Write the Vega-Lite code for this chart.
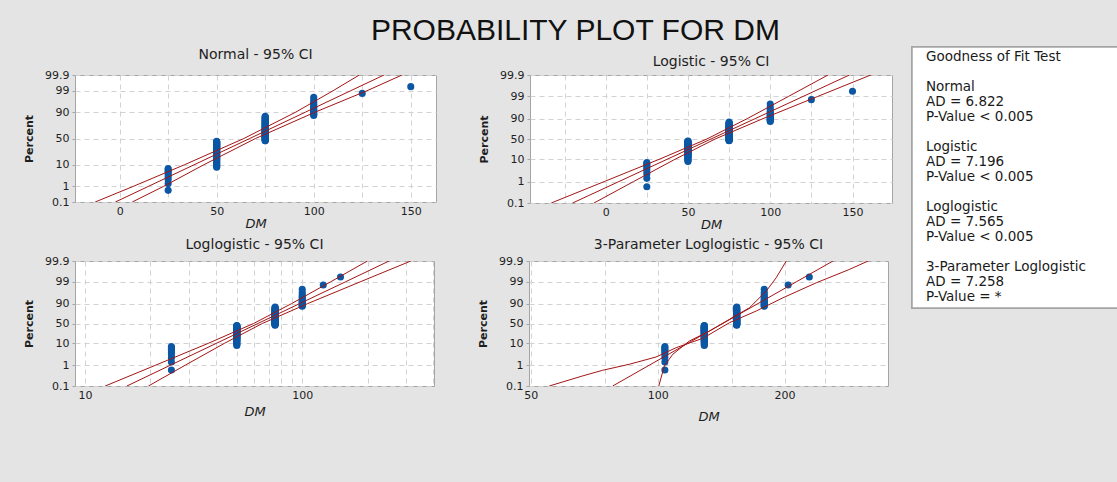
{
  "$schema": "https://vega.github.io/schema/vega-lite/v6.json",
  "background": "#e4e4e4",
  "padding": {"left": 23, "top": 16, "right": 0, "bottom": 70},
  "title": {"text": "PROBABILITY PLOT FOR DM", "font": "Liberation Sans", "fontSize": 30, "fontWeight": "normal", "color": "#111111", "anchor": "middle", "offset": 0},
  "datasets": {
    "pts": [
      {"DM":25,"pct":0.58},{"DM":25,"pct":1.41},{"DM":25,"pct":2.24},{"DM":25,"pct":3.07},{"DM":25,"pct":3.90},{"DM":25,"pct":4.73},{"DM":25,"pct":5.56},{"DM":25,"pct":6.40},{"DM":25,"pct":7.23},
      {"DM":50,"pct":8.06},{"DM":50,"pct":8.89},{"DM":50,"pct":9.72},{"DM":50,"pct":10.55},{"DM":50,"pct":11.38},{"DM":50,"pct":12.21},{"DM":50,"pct":13.04},{"DM":50,"pct":13.87},{"DM":50,"pct":14.70},{"DM":50,"pct":15.53},
      {"DM":50,"pct":16.36},{"DM":50,"pct":17.19},{"DM":50,"pct":18.02},{"DM":50,"pct":18.85},{"DM":50,"pct":19.68},{"DM":50,"pct":20.51},{"DM":50,"pct":21.35},{"DM":50,"pct":22.18},{"DM":50,"pct":23.01},{"DM":50,"pct":23.84},
      {"DM":50,"pct":24.67},{"DM":50,"pct":25.50},{"DM":50,"pct":26.33},{"DM":50,"pct":27.16},{"DM":50,"pct":27.99},{"DM":50,"pct":28.82},{"DM":50,"pct":29.65},{"DM":50,"pct":30.48},{"DM":50,"pct":31.31},{"DM":50,"pct":32.14},
      {"DM":50,"pct":32.97},{"DM":50,"pct":33.80},{"DM":50,"pct":34.63},{"DM":50,"pct":35.47},{"DM":50,"pct":36.30},{"DM":50,"pct":37.13},{"DM":50,"pct":37.96},{"DM":50,"pct":38.79},{"DM":50,"pct":39.62},{"DM":50,"pct":40.45},
      {"DM":50,"pct":41.28},{"DM":50,"pct":42.11},{"DM":50,"pct":42.94},{"DM":50,"pct":43.77},{"DM":50,"pct":44.60},
      {"DM":75,"pct":45.43},{"DM":75,"pct":46.26},{"DM":75,"pct":47.09},{"DM":75,"pct":47.92},{"DM":75,"pct":48.75},{"DM":75,"pct":49.58},{"DM":75,"pct":50.42},{"DM":75,"pct":51.25},{"DM":75,"pct":52.08},{"DM":75,"pct":52.91},
      {"DM":75,"pct":53.74},{"DM":75,"pct":54.57},{"DM":75,"pct":55.40},{"DM":75,"pct":56.23},{"DM":75,"pct":57.06},{"DM":75,"pct":57.89},{"DM":75,"pct":58.72},{"DM":75,"pct":59.55},{"DM":75,"pct":60.38},{"DM":75,"pct":61.21},
      {"DM":75,"pct":62.04},{"DM":75,"pct":62.87},{"DM":75,"pct":63.70},{"DM":75,"pct":64.53},{"DM":75,"pct":65.37},{"DM":75,"pct":66.20},{"DM":75,"pct":67.03},{"DM":75,"pct":67.86},{"DM":75,"pct":68.69},{"DM":75,"pct":69.52},
      {"DM":75,"pct":70.35},{"DM":75,"pct":71.18},{"DM":75,"pct":72.01},{"DM":75,"pct":72.84},{"DM":75,"pct":73.67},{"DM":75,"pct":74.50},{"DM":75,"pct":75.33},{"DM":75,"pct":76.16},{"DM":75,"pct":76.99},{"DM":75,"pct":77.82},
      {"DM":75,"pct":78.65},{"DM":75,"pct":79.49},{"DM":75,"pct":80.32},{"DM":75,"pct":81.15},{"DM":75,"pct":81.98},{"DM":75,"pct":82.81},{"DM":75,"pct":83.64},{"DM":75,"pct":84.47},{"DM":75,"pct":85.30},{"DM":75,"pct":86.13},
      {"DM":100,"pct":86.96},{"DM":100,"pct":87.79},{"DM":100,"pct":88.62},{"DM":100,"pct":89.45},{"DM":100,"pct":90.28},{"DM":100,"pct":91.11},{"DM":100,"pct":91.94},{"DM":100,"pct":92.77},{"DM":100,"pct":93.60},{"DM":100,"pct":94.44},
      {"DM":100,"pct":95.27},{"DM":100,"pct":96.10},{"DM":100,"pct":96.93},{"DM":100,"pct":97.76},
      {"DM":125,"pct":98.59},
      {"DM":150,"pct":99.42}
    ],
    "x3": [
      {"DM":25,"x3":104},{"DM":50,"x3":129},{"DM":75,"x3":154},{"DM":100,"x3":179},{"DM":125,"x3":204},{"DM":150,"x3":229}
    ],
    "lines": [
      {"p":"N","s":"fit","x":-2.2,"pct":0.1},{"p":"N","s":"fit","x":14.9,"pct":1},{"p":"N","s":"fit","x":38.3,"pct":10},{"p":"N","s":"fit","x":67,"pct":50},{"p":"N","s":"fit","x":95.7,"pct":90},{"p":"N","s":"fit","x":119.1,"pct":99},{"p":"N","s":"fit","x":136.2,"pct":99.9},
      {"p":"N","s":"lo","x":-12.6,"pct":0.1},{"p":"N","s":"lo","x":7.1,"pct":1},{"p":"N","s":"lo","x":33.3,"pct":10},{"p":"N","s":"lo","x":64,"pct":50},{"p":"N","s":"lo","x":90.7,"pct":90},{"p":"N","s":"lo","x":110,"pct":99},{"p":"N","s":"lo","x":123.5,"pct":99.9},
      {"p":"N","s":"hi","x":6.5,"pct":0.1},{"p":"N","s":"hi","x":22.7,"pct":1},{"p":"N","s":"hi","x":43.3,"pct":10},{"p":"N","s":"hi","x":70,"pct":50},{"p":"N","s":"hi","x":100.7,"pct":90},{"p":"N","s":"hi","x":127.5,"pct":99},{"p":"N","s":"hi","x":145.5,"pct":99.9},
      {"p":"L","s":"fit","x":-20.1,"pct":0.1},{"p":"L","s":"fit","x":8.0,"pct":1},{"p":"L","s":"fit","x":37.2,"pct":10},{"p":"L","s":"fit","x":64,"pct":50},{"p":"L","s":"fit","x":90.8,"pct":90},{"p":"L","s":"fit","x":120,"pct":99},{"p":"L","s":"fit","x":148.1,"pct":99.9},
      {"p":"L","s":"lo","x":-33.1,"pct":0.1},{"p":"L","s":"lo","x":-0.9,"pct":1},{"p":"L","s":"lo","x":32.4,"pct":10},{"p":"L","s":"lo","x":61.5,"pct":50},{"p":"L","s":"lo","x":86,"pct":90},{"p":"L","s":"lo","x":111.1,"pct":99},{"p":"L","s":"lo","x":135.1,"pct":99.9},
      {"p":"L","s":"hi","x":-7.1,"pct":0.1},{"p":"L","s":"hi","x":16.9,"pct":1},{"p":"L","s":"hi","x":42,"pct":10},{"p":"L","s":"hi","x":66.5,"pct":50},{"p":"L","s":"hi","x":95.6,"pct":90},{"p":"L","s":"hi","x":128.9,"pct":99},{"p":"L","s":"hi","x":161.1,"pct":99.9},
      {"p":"LL","s":"fit","x":15.6,"pct":0.1},{"p":"LL","s":"fit","x":24.8,"pct":1},{"p":"LL","s":"fit","x":40.2,"pct":10},{"p":"LL","s":"fit","x":62.5,"pct":50},{"p":"LL","s":"fit","x":97.3,"pct":90},{"p":"LL","s":"fit","x":157.8,"pct":99},{"p":"LL","s":"fit","x":251,"pct":99.9},
      {"p":"LL","s":"lo","x":12.4,"pct":0.1},{"p":"LL","s":"lo","x":21.2,"pct":1},{"p":"LL","s":"lo","x":36.9,"pct":10},{"p":"LL","s":"lo","x":59.7,"pct":50},{"p":"LL","s":"lo","x":89.3,"pct":90},{"p":"LL","s":"lo","x":134.9,"pct":99},{"p":"LL","s":"lo","x":199.5,"pct":99.9},
      {"p":"LL","s":"hi","x":19.6,"pct":0.1},{"p":"LL","s":"hi","x":29,"pct":1},{"p":"LL","s":"hi","x":43.8,"pct":10},{"p":"LL","s":"hi","x":65.5,"pct":50},{"p":"LL","s":"hi","x":105.9,"pct":90},{"p":"LL","s":"hi","x":184.5,"pct":99},{"p":"LL","s":"hi","x":316,"pct":99.9},
      {"p":"P3","s":"fit","x":78.2,"pct":0.1},{"p":"P3","s":"fit","x":95.6,"pct":1},{"p":"P3","s":"fit","x":117.8,"pct":10},{"p":"P3","s":"fit","x":142.7,"pct":50},{"p":"P3","s":"fit","x":172.9,"pct":90},{"p":"P3","s":"fit","x":213.1,"pct":99},{"p":"P3","s":"fit","x":260.6,"pct":99.9},
      {"p":"P3","s":"st","x":100.6,"pct":0.1},{"p":"P3","s":"st","x":103.7,"pct":0.91},{"p":"P3","s":"st","x":108.6,"pct":3.23},{"p":"P3","s":"st","x":118.9,"pct":12.6},{"p":"P3","s":"st","x":132.7,"pct":30.4},{"p":"P3","s":"st","x":148,"pct":61.4},{"p":"P3","s":"st","x":165.2,"pct":85.2},{"p":"P3","s":"st","x":181,"pct":97.3},{"p":"P3","s":"st","x":191.1,"pct":99.37},{"p":"P3","s":"st","x":201.9,"pct":99.9},
      {"p":"P3","s":"sh","x":55.3,"pct":0.1},{"p":"P3","s":"sh","x":66.4,"pct":0.305},{"p":"P3","s":"sh","x":74,"pct":0.565},{"p":"P3","s":"sh","x":85.6,"pct":1.09},{"p":"P3","s":"sh","x":99.1,"pct":2.41},{"p":"P3","s":"sh","x":110.6,"pct":6.46},{"p":"P3","s":"sh","x":128,"pct":16.3},{"p":"P3","s":"sh","x":148,"pct":52.2},{"p":"P3","s":"sh","x":171.3,"pct":79.9},{"p":"P3","s":"sh","x":198.3,"pct":94.5},{"p":"P3","s":"sh","x":237.9,"pct":98.9},{"p":"P3","s":"sh","x":285.5,"pct":99.75},{"p":"P3","s":"sh","x":315.8,"pct":99.9}
    ],
    "gof": [
      {"row": 0, "t": "Goodness of Fit Test"},
      {"row": 2, "t": "Normal"},
      {"row": 3, "t": "AD = 6.822"},
      {"row": 4, "t": "P-Value < 0.005"},
      {"row": 6, "t": "Logistic"},
      {"row": 7, "t": "AD = 7.196"},
      {"row": 8, "t": "P-Value < 0.005"},
      {"row": 10, "t": "Loglogistic"},
      {"row": 11, "t": "AD = 7.565"},
      {"row": 12, "t": "P-Value < 0.005"},
      {"row": 14, "t": "3-Parameter Loglogistic"},
      {"row": 15, "t": "AD = 7.258"},
      {"row": 16, "t": "P-Value = *"}
    ]
  },
  "spacing": 18,
  "hconcat": [
    {
      "spacing": 5,
      "vconcat": [
        {
          "spacing": 41,
          "hconcat": [
            {
              "width": 361, "height": 127,
              "title": {"text": "Normal - 95% CI", "offset": 7},
              "layer": [
                {
                  "data": {"name": "pts"},
                  "transform": [{"calculate": "quantileNormal(datum.pct/100)", "as": "q"}],
                  "mark": {"type": "point", "filled": true, "size": 50, "opacity": 1, "color": "#0b57a4"},
                  "encoding": {
                    "x": {"field": "DM", "type": "quantitative", "scale": {"domain": [-23, 163], "nice": false, "zero": false},
                      "axis": {"values": [0, 25, 50, 75, 100, 125, 150], "tickCount": 40, "labelExpr": "datum.value % 50 === 0 ? datum.label : ''", "title": "DM", "labelOverlap": false}},
                    "y": {"field": "q", "type": "quantitative", "scale": {"domain": [-3.0902, 3.0902], "nice": false, "zero": false},
                      "axis": {"values": [-3.0902, -2.3263, -1.2816, 0, 1.2816, 2.3263, 3.0902], "tickCount": 40, "labelExpr": "'' + round(cumulativeNormal(datum.value)*1000)/10", "title": "Percent", "labelOverlap": false}}
                  }
                },
                {
                  "data": {"name": "lines"},
                  "transform": [{"filter": "datum.p === 'N'"}, {"calculate": "quantileNormal(datum.pct/100)", "as": "q"}],
                  "mark": {"type": "line", "color": "#a31515", "strokeWidth": 1, "clip": true},
                  "encoding": {
                    "x": {"field": "x", "type": "quantitative"},
                    "y": {"field": "q", "type": "quantitative"},
                    "detail": {"field": "s"},
                    "order": {"field": "pct", "type": "quantitative"}
                  }
                }
              ]
            },
            {
              "width": 362, "height": 128,
              "title": {"text": "Logistic - 95% CI", "offset": 0},
              "layer": [
                {
                  "data": {"name": "pts"},
                  "transform": [{"calculate": "log(datum.pct/(100-datum.pct))", "as": "lg"}],
                  "mark": {"type": "point", "filled": true, "size": 50, "opacity": 1, "color": "#0b57a4"},
                  "encoding": {
                    "x": {"field": "DM", "type": "quantitative", "scale": {"domain": [-46, 174], "nice": false, "zero": false},
                      "axis": {"values": [-25, 0, 25, 50, 75, 100, 125, 150], "tickCount": 40, "labelExpr": "datum.value % 50 === 0 ? datum.label : ''", "title": "DM", "labelOverlap": false}},
                    "y": {"field": "lg", "type": "quantitative", "scale": {"domain": [-6.9068, 6.9068], "nice": false, "zero": false},
                      "axis": {"values": [-6.9068, -4.5951, -2.1972, 0, 2.1972, 4.5951, 6.9068], "tickCount": 40, "labelExpr": "'' + round(1000/(1+exp(-datum.value)))/10", "title": "Percent", "labelOverlap": false}}
                  }
                },
                {
                  "data": {"name": "lines"},
                  "transform": [{"filter": "datum.p === 'L'"}, {"calculate": "log(datum.pct/(100-datum.pct))", "as": "lg"}],
                  "mark": {"type": "line", "color": "#a31515", "strokeWidth": 1, "clip": true},
                  "encoding": {
                    "x": {"field": "x", "type": "quantitative"},
                    "y": {"field": "lg", "type": "quantitative"},
                    "detail": {"field": "s"},
                    "order": {"field": "pct", "type": "quantitative"}
                  }
                }
              ]
            }
          ]
        },
        {
          "spacing": 42,
          "hconcat": [
            {
              "width": 359, "height": 125,
              "title": {"text": "Loglogistic - 95% CI", "offset": 3},
              "layer": [
                {
                  "data": {"name": "pts"},
                  "transform": [{"calculate": "log(datum.pct/(100-datum.pct))", "as": "lg"}],
                  "mark": {"type": "point", "filled": true, "size": 50, "opacity": 1, "color": "#0b57a4"},
                  "encoding": {
                    "x": {"field": "DM", "type": "quantitative", "scale": {"type": "log", "domain": [9, 404], "nice": false},
                      "axis": {"values": [10, 20, 30, 40, 50, 60, 70, 80, 90, 100, 200, 300, 400], "tickCount": 40, "labelExpr": "datum.value === 10 || datum.value === 100 ? datum.label : ''", "title": "DM", "titlePadding": 5, "labelOverlap": false}},
                    "y": {"field": "lg", "type": "quantitative", "scale": {"domain": [-6.9068, 6.9068], "nice": false, "zero": false},
                      "axis": {"values": [-6.9068, -4.5951, -2.1972, 0, 2.1972, 4.5951, 6.9068], "tickCount": 40, "labelExpr": "'' + round(1000/(1+exp(-datum.value)))/10", "title": "Percent", "labelOverlap": false}}
                  }
                },
                {
                  "data": {"name": "lines"},
                  "transform": [{"filter": "datum.p === 'LL'"}, {"calculate": "log(datum.pct/(100-datum.pct))", "as": "lg"}],
                  "mark": {"type": "line", "color": "#a31515", "strokeWidth": 1, "clip": true},
                  "encoding": {
                    "x": {"field": "x", "type": "quantitative"},
                    "y": {"field": "lg", "type": "quantitative"},
                    "detail": {"field": "s"},
                    "order": {"field": "pct", "type": "quantitative"}
                  }
                }
              ]
            },
            {
              "width": 359, "height": 125,
              "title": {"text": "3-Parameter Loglogistic - 95% CI", "offset": 3},
              "layer": [
                {
                  "data": {"name": "pts"},
                  "transform": [
                    {"lookup": "DM", "from": {"data": {"name": "x3"}, "key": "DM", "fields": ["x3"]}},
                    {"calculate": "log(datum.pct/(100-datum.pct))", "as": "lg"}
                  ],
                  "mark": {"type": "point", "filled": true, "size": 50, "opacity": 1, "color": "#0b57a4"},
                  "encoding": {
                    "x": {"field": "x3", "type": "quantitative", "scale": {"type": "log", "domain": [49.5, 352], "nice": false},
                      "axis": {"values": [50, 75, 100, 150, 200, 250], "tickCount": 40, "labelExpr": "datum.value === 50 || datum.value === 100 || datum.value === 200 ? datum.label : ''", "title": "DM", "titlePadding": 10, "labelOverlap": false}},
                    "y": {"field": "lg", "type": "quantitative", "scale": {"domain": [-6.9068, 6.9068], "nice": false, "zero": false},
                      "axis": {"values": [-6.9068, -4.5951, -2.1972, 0, 2.1972, 4.5951, 6.9068], "tickCount": 40, "labelExpr": "'' + round(1000/(1+exp(-datum.value)))/10", "title": "Percent", "labelOverlap": false}}
                  }
                },
                {
                  "data": {"name": "lines"},
                  "transform": [{"filter": "datum.p === 'P3'"}, {"calculate": "log(datum.pct/(100-datum.pct))", "as": "lg"}],
                  "mark": {"type": "line", "color": "#a31515", "strokeWidth": 1, "clip": true},
                  "encoding": {
                    "x": {"field": "x", "type": "quantitative"},
                    "y": {"field": "lg", "type": "quantitative"},
                    "detail": {"field": "s"},
                    "order": {"field": "pct", "type": "quantitative"}
                  }
                }
              ]
            }
          ]
        }
      ]
    },
    {
      "width": 215, "height": 233,
      "view": {"stroke": null, "fill": null},
      "data": {"name": "gof"},
      "layer": [
        {
          "mark": {"type": "rect", "fill": "white", "stroke": "#a5a5a5", "strokeWidth": 1.5},
          "encoding": {
            "x": {"datum": 0, "type": "quantitative", "scale": {"domain": [0, 100], "nice": false, "zero": false}, "axis": null},
            "x2": {"datum": 100},
            "y": {"datum": -0.667, "type": "quantitative", "scale": {"domain": [1.2, 16.733], "nice": false, "zero": false, "reverse": true}, "axis": null},
            "y2": {"datum": 16.733}
          }
        },
        {
          "mark": {"type": "text", "align": "left", "baseline": "middle", "font": "DejaVu Sans", "fontSize": 13.5, "color": "#1a1a1a"},
          "encoding": {
            "x": {"datum": 6.5, "type": "quantitative"},
            "y": {"field": "row", "type": "quantitative"},
            "text": {"field": "t"}
          }
        }
      ]
    }
  ],
  "config": {
    "view": {"stroke": "#a5a5a5", "fill": "white"},
    "title": {"font": "DejaVu Sans", "fontSize": 14, "fontWeight": "normal", "color": "#1e1e1e"},
    "axis": {"labelFont": "DejaVu Sans", "labelFontSize": 11, "labelColor": "#1e1e1e", "titleFont": "DejaVu Sans", "titleColor": "#1e1e1e", "tickCount": 40,
      "grid": true, "gridColor": "#d2d2d2", "gridDash": [5, 4], "gridWidth": 1, "domain": false, "labelOverlap": false, "labelFlush": false, "labelBound": false},
    "axisX": {"ticks": false, "labelPadding": 3, "titleFontSize": 13, "titleFontStyle": "italic", "titleFontWeight": "normal", "titlePadding": 1},
    "axisY": {"tickSize": 3, "tickColor": "#a5a5a5", "labelPadding": 3, "titleFontSize": 11, "titleFontWeight": "bold", "titlePadding": 10}
  }
}
